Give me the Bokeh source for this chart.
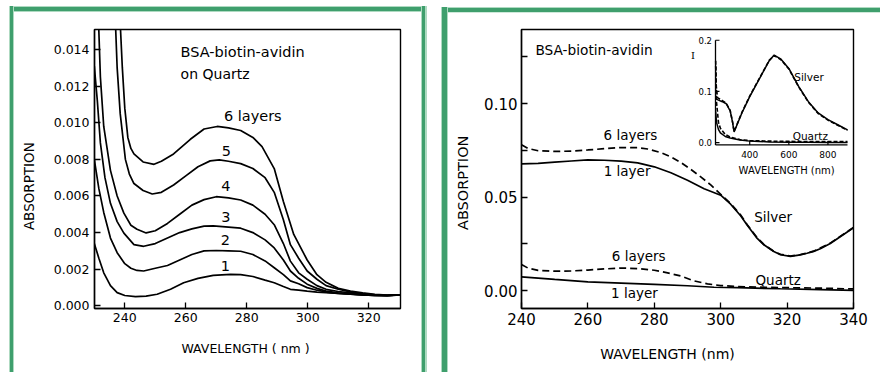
import math
from bokeh.plotting import figure
from bokeh.models import Range1d, FixedTicker, Label
from bokeh.layouts import row
from bokeh.embed import file_html
from bokeh.resources import INLINE
from bokeh.core.properties import value

FONT = "DejaVu Sans"
NB = "\u00a0"

# ---------------- Left panel: BSA-biotin-avidin on Quartz (absorption, 1..6 layers)
L1_X = [230, 231.5, 233.1, 235.3, 237.5, 240, 243.5, 247, 250.6, 255, 259.3, 264, 269, 274.7, 278, 282, 286, 289, 292, 294.3, 297, 299.8, 303, 306, 310, 314, 318, 322, 326, 330.4]
L1_Y = [0.0034, 0.0026, 0.0018, 0.0011, 0.00072, 0.00056, 0.0005, 0.00053, 0.00063, 0.0009, 0.00126, 0.0015, 0.00166, 0.00172, 0.0017, 0.0016, 0.0014, 0.00126, 0.00105, 0.0009, 0.00085, 0.0008, 0.00075, 0.00072, 0.00068, 0.00064, 0.0006, 0.00057, 0.00055, 0.0006]

L2_X = [230, 231.5, 233.1, 235.3, 237.5, 240, 242, 244, 246.2, 250, 254, 258, 262, 266, 270, 274, 278, 282, 286, 289, 292, 294.3, 297, 299.8, 303, 306, 310, 314, 318, 322, 326, 330.4]
L2_Y = [0.0080, 0.0064, 0.0051, 0.0037, 0.0029, 0.0023, 0.00205, 0.00193, 0.0019, 0.00205, 0.0022, 0.0025, 0.0028, 0.0030, 0.00302, 0.0030, 0.00298, 0.0028, 0.00245, 0.00208, 0.0017, 0.00136, 0.0012, 0.00099, 0.00085, 0.00075, 0.00068, 0.00063, 0.00059, 0.00056, 0.00055, 0.0006]

L3_X = [230, 231, 232, 233.5, 235.3, 237.5, 239.7, 243, 246.2, 250, 254, 258, 262, 266, 269, 274, 278, 282, 286, 289, 292, 294.3, 297, 299.8, 303, 306, 310, 314, 318, 322, 326, 330.4]
L3_Y = [0.0131, 0.0112, 0.0089, 0.0070, 0.0056, 0.0046, 0.00397, 0.00334, 0.00325, 0.0034, 0.0037, 0.0040, 0.0042, 0.00435, 0.00437, 0.0043, 0.00424, 0.0040, 0.0036, 0.00316, 0.0025, 0.0019, 0.0015, 0.00118, 0.00095, 0.0008, 0.0007, 0.00065, 0.0006, 0.00057, 0.00056, 0.0006]

L4_X = [231.2, 232, 233.1, 235.3, 237.5, 239.7, 242, 244, 247, 250, 254, 258, 262, 266, 270, 274, 278, 282, 286, 289, 292, 294.3, 297, 299.8, 303, 306, 310, 314, 318, 322, 326, 330.4]
L4_Y = [0.0165, 0.0125, 0.0098, 0.0074, 0.0060, 0.00506, 0.0044, 0.00418, 0.00398, 0.0041, 0.0045, 0.0050, 0.0055, 0.0058, 0.00596, 0.0059, 0.00578, 0.0055, 0.0050, 0.00443, 0.0034, 0.00244, 0.0018, 0.00145, 0.0011, 0.0009, 0.00078, 0.0007, 0.00063, 0.00058, 0.00056, 0.0006]

L5_X = [236.7, 237.5, 238.5, 240.2, 241.5, 243, 246, 249, 252, 256, 260, 264, 268, 271, 274, 278, 282, 286, 289, 292, 294.3, 297, 299.8, 303, 306, 310, 314, 318, 322, 326, 330.4]
L5_Y = [0.0165, 0.0130, 0.0105, 0.0080, 0.0072, 0.00668, 0.0063, 0.00611, 0.0062, 0.0066, 0.0071, 0.0076, 0.00792, 0.00797, 0.0079, 0.00777, 0.0075, 0.0070, 0.0062, 0.0047, 0.00334, 0.0026, 0.0019, 0.00145, 0.0011, 0.0009, 0.00075, 0.00066, 0.0006, 0.00057, 0.0006]

L6_X = [238.2, 239.2, 240.0, 241.0, 242, 243, 246, 249.6, 252, 256, 261.5, 266, 270.3, 274, 278, 282, 285, 289, 292, 295.4, 299.8, 303, 306, 310, 314, 318, 322, 326, 330.4]
L6_Y = [0.0165, 0.0130, 0.0108, 0.0092, 0.0086, 0.0083, 0.00786, 0.00773, 0.0079, 0.0083, 0.0091, 0.00966, 0.0098, 0.00972, 0.00958, 0.0092, 0.0087, 0.0075, 0.0057, 0.0039, 0.0025, 0.0017, 0.00128, 0.00095, 0.0008, 0.0007, 0.00062, 0.00058, 0.0006]

LEFT_XTICKS = [240, 260, 280, 300, 320]
LEFT_XLABELS = ["240", "260", "280", "300", "320"]
LEFT_YTICKS = [0.0, 0.002, 0.004, 0.006, 0.008, 0.010, 0.012, 0.014]
LEFT_YLABELS = ["0.000", "0.002", "0.004", "0.006", "0.008", "0.010", "0.012", "0.014"]

# ---------------- Right panel: Silver vs Quartz, 1 layer (solid) and 6 layers (dashed)
AG1_X = [240, 245, 250, 255, 260, 265, 270, 275, 280, 285, 290, 295, 300, 303, 306, 308, 311, 313, 316, 318, 321, 324, 326, 328, 330, 333, 336, 340]
AG1_Y = [0.0678, 0.0680, 0.0687, 0.0693, 0.0699, 0.0697, 0.0692, 0.0683, 0.0662, 0.0630, 0.0590, 0.0545, 0.0510, 0.0462, 0.0400, 0.0350, 0.0279, 0.0245, 0.0209, 0.0192, 0.0183, 0.0191, 0.0200, 0.0210, 0.0224, 0.0252, 0.0288, 0.0336]

AG6_X = [240, 242, 245, 250, 255, 260, 265, 270, 275, 278, 282, 285, 288, 291, 294, 297, 300, 303, 306, 308, 311, 313, 316, 318, 321, 324, 326, 328, 333, 340]
AG6_Y = [0.0780, 0.0760, 0.0748, 0.0744, 0.0746, 0.0752, 0.0759, 0.0765, 0.0764, 0.0757, 0.0738, 0.0715, 0.0685, 0.0648, 0.0608, 0.0565, 0.0515, 0.0465, 0.0405, 0.0352, 0.0283, 0.0247, 0.0210, 0.0194, 0.0185, 0.0193, 0.0201, 0.0211, 0.0254, 0.0338]

QZ1_X = [240, 250, 260, 270, 280, 290, 298, 305, 318, 330, 340]
QZ1_Y = [0.0074, 0.0060, 0.0047, 0.0040, 0.0033, 0.0026, 0.0018, 0.0016, 0.0010, 0.0005, 0.0001]

QZ6_X = [240, 242, 245, 250, 255, 260, 265, 270, 275, 280, 284, 288, 292, 296, 300, 305, 313, 320, 328, 340]
QZ6_Y = [0.0140, 0.0120, 0.0108, 0.0104, 0.0105, 0.0110, 0.0116, 0.0121, 0.0118, 0.0109, 0.0095, 0.0078, 0.0052, 0.0036, 0.0027, 0.0022, 0.0018, 0.0016, 0.0014, 0.0009]

RIGHT_XTICKS = [240, 260, 280, 300, 320, 340]
RIGHT_XLABELS = ["240", "260", "280", "300", "320", "340"]
RIGHT_YTICKS = [0.0, 0.05, 0.10]
RIGHT_YLABELS = ["0.00", "0.05", "0.10"]
RIGHT_YMINOR = [0.025, 0.075, 0.125]

# ---------------- Inset: intensity I over 225..900 nm
IN_AG1_X = [225, 240, 260, 280, 300, 312, 320, 330, 360, 400, 450, 500, 525, 560, 600, 650, 700, 750, 800, 850, 900]
IN_AG1_Y = [0.086, 0.083, 0.080, 0.076, 0.062, 0.040, 0.021, 0.030, 0.058, 0.090, 0.125, 0.160, 0.171, 0.163, 0.145, 0.110, 0.080, 0.058, 0.045, 0.035, 0.025]
IN_AG6_X = [226, 229, 235, 260, 280, 300, 312, 320, 330, 360, 400, 450, 500, 525, 560, 600, 650, 700, 750, 800, 850, 900]
IN_AG6_Y = [0.160, 0.110, 0.088, 0.082, 0.077, 0.063, 0.041, 0.022, 0.031, 0.059, 0.091, 0.126, 0.161, 0.170, 0.162, 0.144, 0.109, 0.079, 0.057, 0.044, 0.034, 0.024]
IN_QZ1_X = [226, 230, 240, 250, 275, 300, 350, 400, 500, 600, 700, 800, 900]
IN_QZ1_Y = [0.060, 0.040, 0.026, 0.019, 0.012, 0.009, 0.005, 0.003, 0.0015, 0.001, 0.0008, 0.0005, 0.0003]
IN_QZ6_X = [226, 230, 240, 250, 275, 300, 350, 400, 500, 600, 700, 800, 900]
IN_QZ6_Y = [0.150, 0.080, 0.040, 0.028, 0.016, 0.011, 0.006, 0.004, 0.003, 0.0025, 0.002, 0.002, 0.002]
IN_XTICKS = [400, 600, 800]
IN_XLABELS = ["400", "600", "800"]
IN_YTICKS = [0.0, 0.1, 0.2]
IN_YLABELS = ["0.0", "0.1", "0.2"]
IN_XMIN, IN_XMAX, IN_YBASE = 225, 900, -0.0045

DARK_GREEN = "#3f9f6d"
LIGHT_GREEN = "#aedac1"


def style_axes(p, size):
    for ax in (p.xaxis[0], p.yaxis[0]):
        ax.axis_line_color = "black"
        ax.axis_line_width = 1.4
        ax.major_tick_line_color = "black"
        ax.major_tick_line_width = 1.3
        ax.minor_tick_line_color = "black"
        ax.minor_tick_line_width = 1.3
        ax.major_tick_in = 6
        ax.major_tick_out = 0
        ax.minor_tick_in = 6
        ax.minor_tick_out = 0
        ax.major_label_text_font = FONT
        ax.major_label_text_font_size = size
        ax.major_label_text_color = "black"
        ax.axis_label_text_font = FONT
        ax.axis_label_text_font_style = "normal"
        ax.axis_label_text_color = "black"
    p.xgrid.visible = False
    p.ygrid.visible = False
    p.outline_line_color = "black"
    p.outline_line_width = 1.4
    p.outline_line_alpha = 1.0
    p.background_fill_color = "white"
    p.border_fill_color = None


def label(p, x, y, text, size, align="center", font=FONT):
    p.add_layout(Label(x=x, y=y, text=text, text_font=font, text_font_size=size,
                       text_align=align, text_baseline="middle", text_color="black"))


# ================= LEFT FIGURE (page x 0..440) =================
pl = figure(width=440, height=372, x_range=Range1d(230.07, 330.4),
            y_range=Range1d(-0.00015, 0.0151), output_backend="svg",
            toolbar_location=None, min_border_left=94, min_border_right=40,
            min_border_top=29, min_border_bottom=64)
style_axes(pl, "12.5px")
pl.xaxis.ticker = FixedTicker(ticks=LEFT_XTICKS)
pl.xaxis.major_label_overrides = dict(zip(LEFT_XTICKS, LEFT_XLABELS))
pl.yaxis.ticker = FixedTicker(ticks=LEFT_YTICKS)
pl.yaxis.major_label_overrides = dict(zip(LEFT_YTICKS, LEFT_YLABELS))
pl.xaxis.major_label_standoff = 4
pl.yaxis.major_label_standoff = 5
pl.xaxis.axis_label = "WAVELENGTH  ( nm )"
pl.xaxis.axis_label_text_font_size = "12.5px"
pl.xaxis.axis_label_standoff = 16
# trailing no-break spaces move the centred axis title down to where the original sits
pl.yaxis.axis_label = "ABSORPTION" + NB * 8
pl.yaxis.axis_label_text_font_size = "13.5px"
pl.yaxis.axis_label_standoff = 14

for xs, ys in ((L1_X, L1_Y), (L2_X, L2_Y), (L3_X, L3_Y), (L4_X, L4_Y), (L5_X, L5_Y), (L6_X, L6_Y)):
    pl.line(xs, ys, line_color="black", line_width=1.7)

label(pl, 258.3, 0.01388, "BSA-biotin-avidin", "14.5px", align="left")
label(pl, 258.3, 0.01269, "on Quartz", "14px", align="left")
label(pl, 272.5, 0.01036, "6 layers", "14.5px", align="left")
label(pl, 273.3, 0.00847, "5", "14.5px")
label(pl, 273.1, 0.00652, "4", "14.5px")
label(pl, 273.1, 0.00484, "3", "14.5px")
label(pl, 273.0, 0.00362, "2", "14.5px")
label(pl, 273.0, 0.00217, "1", "14.5px")

# ================= RIGHT FIGURE (page x 440..880) =================
RFL, RFR, RFT, RFB = 81, 413, 29, 315
pr = figure(width=440, height=372, x_range=Range1d(240, 340),
            y_range=Range1d(-0.00955, 0.1396), output_backend="svg",
            toolbar_location=None, min_border_left=RFL, min_border_right=440 - RFR,
            min_border_top=RFT, min_border_bottom=372 - RFB)
style_axes(pr, "15px")
pr.xaxis.ticker = FixedTicker(ticks=RIGHT_XTICKS)
pr.xaxis.major_label_overrides = dict(zip(RIGHT_XTICKS, RIGHT_XLABELS))
pr.yaxis.ticker = FixedTicker(ticks=RIGHT_YTICKS, minor_ticks=RIGHT_YMINOR)
pr.yaxis.major_label_overrides = dict(zip(RIGHT_YTICKS, RIGHT_YLABELS))
pr.xaxis.major_label_standoff = 4
pr.yaxis.major_label_standoff = 4
pr.yaxis.axis_label = "ABSORPTION" + NB * 6
pr.yaxis.axis_label_text_font_size = "14.5px"
pr.yaxis.axis_label_standoff = 10
pr.xaxis.axis_label = "WAVELENGTH  (nm)" + NB * 8
pr.xaxis.axis_label_text_font_size = "14px"
pr.xaxis.axis_label_standoff = 18

pr.line(AG1_X, AG1_Y, line_color="black", line_width=1.7)
pr.line(AG6_X, AG6_Y, line_color="black", line_width=1.7, line_dash="7 4")
pr.line(QZ1_X, QZ1_Y, line_color="black", line_width=1.7)
pr.line(QZ6_X, QZ6_Y, line_color="black", line_width=1.7, line_dash="7 4")

label(pr, 244.2, 0.1284, "BSA-biotin-avidin", "13.7px", align="left")
label(pr, 272.8, 0.0831, "6 layers", "13.5px")
label(pr, 271.8, 0.0640, "1 layer", "13.5px")
label(pr, 315.8, 0.0396, "Silver", "13.5px")
label(pr, 275.3, 0.0187, "6 layers", "13.5px")
label(pr, 317.3, 0.0057, "Quartz", "13.5px")
label(pr, 274.0, -0.0013, "1 layer", "13.5px")

# inset drawn through its own (extra) scales
pr.extra_x_ranges = {"ix": Range1d(-767.05, 930.7)}
pr.extra_y_ranges = {"iy": Range1d(-0.32381, 0.22095)}
IX_PER_PX = (930.7 + 767.05) / (RFR - RFL)
IY_PER_PX = (0.22095 + 0.32381) / (RFB - RFT)

ik = dict(x_range_name="ix", y_range_name="iy")
pr.line(IN_AG1_X, IN_AG1_Y, line_color="black", line_width=1.5, **ik)
pr.line(IN_AG6_X, IN_AG6_Y, line_color="black", line_width=1.6, line_dash="4 2", **ik)
pr.line(IN_QZ1_X, IN_QZ1_Y, line_color="black", line_width=1.5, **ik)
pr.line(IN_QZ6_X, IN_QZ6_Y, line_color="black", line_width=1.6, line_dash="4 2", **ik)
pr.segment(x0=[IN_XMIN, IN_XMIN], y0=[IN_YBASE, IN_YBASE], x1=[IN_XMIN, IN_XMAX], y1=[IN_YTICKS[-1], IN_YBASE],
           line_color="black", line_width=1.3, **ik)
pr.segment(x0=[IN_XMIN] * len(IN_YTICKS), y0=IN_YTICKS, x1=[IN_XMIN + 4 * IX_PER_PX] * len(IN_YTICKS), y1=IN_YTICKS,
           line_color="black", line_width=1.2, **ik)
pr.segment(x0=IN_XTICKS, y0=[IN_YBASE] * len(IN_XTICKS), x1=IN_XTICKS, y1=[IN_YBASE + 4 * IY_PER_PX] * len(IN_XTICKS),
           line_color="black", line_width=1.2, **ik)
pr.text(x=IN_XTICKS, y=[IN_YBASE - 10 * IY_PER_PX] * len(IN_XTICKS), text=IN_XLABELS,
        text_font=value(FONT), text_font_size="9px", text_align="center", text_baseline="middle", **ik)
pr.text(x=[IN_XMIN - 3.5 * IX_PER_PX] * len(IN_YTICKS), y=IN_YTICKS, text=IN_YLABELS,
        text_font=value(FONT), text_font_size="8.5px", text_align="right", text_baseline="middle", **ik)
pr.text(x=[589], y=[-0.0552], text=["WAVELENGTH (nm)"], text_font=value(FONT), text_font_size="10px",
        text_align="center", text_baseline="middle", **ik)
pr.text(x=[110], y=[0.171], text=["I"], text_font=value("DejaVu Serif"), text_font_size="10px",
        text_align="center", text_baseline="middle", **ik)
pr.text(x=[703], y=[0.128], text=["Silver"], text_font=value(FONT), text_font_size="10.5px",
        text_align="center", text_baseline="middle", **ik)
pr.text(x=[710], y=[0.0137], text=["Quartz"], text_font=value(FONT), text_font_size="10.5px",
        text_align="center", text_baseline="middle", **ik)

# ---- green double-line panel frames (page background behind the transparent canvases)
L, D = LIGHT_GREEN, DARK_GREEN


def stripes(direction, parts):
    return "linear-gradient(%s, %s)" % (direction, ", ".join("%s %spx %spx" % s for s in parts))


layers = [
    # left panel: left side, right side, top
    (stripes("to right", [(L, 0, 1), (D, 1, 4), (L, 4, 5)]), "5px 366px", "9px 6px"),
    (stripes("to right", [(L, 0, 1), (D, 1, 4.5), (L, 4.5, 6)]), "6px 366px", "421px 6px"),
    (stripes("to bottom", [(L, 0, 1.3), (D, 1.3, 5), (L, 5, 6)]), "418px 6px", "9px 6px"),
    # right panel: left side, top
    (stripes("to right", [(L, 0, 1.3), (D, 1.3, 5.7), (L, 5.7, 7)]), "7px 365px", "441px 7px"),
    (stripes("to bottom", [(L, 0, 1.4), (D, 1.4, 4.6), (L, 4.6, 5.6)]), "439px 5.6px", "441px 7px"),
]
styles = {
    "background-color": "white",
    "background-image": ", ".join(l[0] for l in layers),
    "background-size": ", ".join(l[1] for l in layers),
    "background-position": ", ".join(l[2] for l in layers),
    "background-repeat": "no-repeat",
}

layout = row(pl, pr, spacing=0, styles=styles)
open("out.html", "w").write(file_html(layout, INLINE))
